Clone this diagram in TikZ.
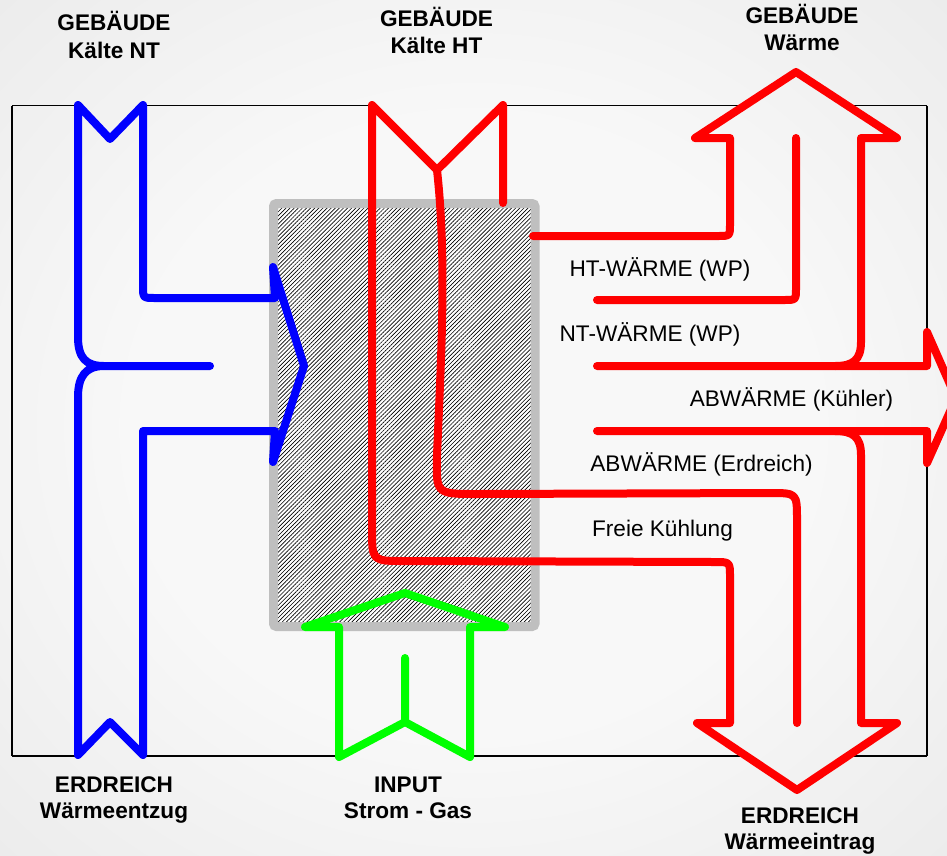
\documentclass[tikz,border=0pt]{standalone}
\usepackage{fontspec}
\setmainfont{Liberation Sans}
\usetikzlibrary{patterns.meta}
\definecolor{fblue}{HTML}{0000FF}
\definecolor{fred}{HTML}{FF0000}
\definecolor{fgreen}{HTML}{00FF00}
\definecolor{boxgray}{HTML}{BFBFBF}
\definecolor{bgc0}{HTML}{F8F8F8}
\definecolor{bgc1}{HTML}{E2E2E2}
\definecolor{bgc2}{HTML}{C6C6C6}
\pgfdeclareradialshading{bgshade}{\pgfpoint{0bp}{0bp}}{color(0bp)=(bgc0); color(18bp)=(bgc0); color(50bp)=(bgc1); color(71bp)=(bgc2)}
\tikzset{
  flow/.style={line width=8pt, line cap=round, line join=round},
  bl/.style={flow, draw=fblue},
  rd/.style={flow, draw=fred},
  gr/.style={flow, draw=fgreen},
  framel/.style={draw=black, line width=1.2pt},
  lbl/.style={font=\bfseries\fontsize{22.6}{26}\selectfont, anchor=base, inner sep=0pt},
  txt/.style={font=\fontsize{22.6}{26}\selectfont, anchor=base, inner sep=0pt},
}
\begin{document}
\begin{tikzpicture}[x=1pt,y=-1pt]
\useasboundingbox (0,0) rectangle (947,855);
\shade[shading=bgshade] (0,0) rectangle (947,855);

% frame (hidden inside arrow bodies)
\draw[framel] (12,105.5) -- (12,756);
\draw[framel] (12,105.5) -- (78,105.5) (143,105.5) -- (372,105.5) (503,105.5) -- (745,105.5) (847,105.5) -- (927,105.5);
\draw[framel] (12,756) -- (78,756) (143,756) -- (339,756) (470,756) -- (745,756) (849,756) -- (927,756);
\draw[framel] (927,105.5) -- (927,366) (927,431) -- (927,756);

% hatched box
\fill[white] (273.5,203.5) rectangle (535,626.5);
\fill[pattern={Lines[angle=45,distance=2.9pt,line width=0.65pt]}, pattern color=black] (273.5,203.5) rectangle (535,626.5);
\draw[boxgray, line width=9pt, rounded corners=3pt] (273.5,203.5) rectangle (535,626.5);

% blue
\draw[bl] (210,366) -- (104,366) .. controls (86,366) and (78,358) .. (78,337) -- (78,105) -- (110,139) -- (143,105)
  -- (143,286) .. controls (143,298) .. (155,298) -- (275,298) -- (273,267) -- (304,366) -- (273,462) -- (275,431)
  -- (143,431) -- (143,755) -- (110,722) -- (78,755) -- (78,397) .. controls (78,376) and (86,366) .. (104,366);

% red
\draw[rd] (597,431) -- (927,431) -- (927,463) -- (956,398) -- (927,332) -- (927,366) -- (597,366);
\draw[rd] (533,236) -- (718,236) .. controls (730,236) .. (730,224) -- (730,138) -- (695,138) -- (796,72) -- (897,138)
  -- (861,138) -- (861,342) .. controls (861,360) and (853,366) .. (835,366);
\draw[rd] (597,300) -- (784,300) .. controls (796,300) .. (796,288) -- (796,138);
\draw[rd] (835,431) .. controls (853,431) and (861,437) .. (861,455) -- (861,723) -- (897,723) -- (797,790) -- (697,723)
  -- (730,723) -- (730,577) .. controls (730,562) .. (715,562) -- (404,561) .. controls (372,561) .. (372,529)
  -- (372,105) -- (437,170) -- (503,105) -- (503,203);
\draw[rd] (437,170) .. controls (447,260) and (441,360) .. (437,455) .. controls (436,494) .. (477,494)
  -- (770,493) .. controls (797,493) .. (797,520) -- (797,723);

% green
\draw[gr] (405,658) -- (405,722) -- (339,757) -- (339,627) -- (305,627) -- (405,593) -- (505,627) -- (470,627)
  -- (470,757) -- (405,722);

% labels
\node[lbl] (gnt1) at (114,30.5) {GEBÄUDE};
\node[lbl] (gnt2) at (114,58) {Kälte NT};
\node[lbl] (ght1) at (436.5,26) {GEBÄUDE};
\node[lbl] (ght2) at (436.5,53) {Kälte HT};
\node[lbl] (gw1) at (802,23.5) {GEBÄUDE};
\node[lbl] (gw2) at (802,50.5) {Wärme};
\node[lbl] (el1) at (114,792) {ERDREICH};
\node[lbl] (el2) at (114,818) {Wärmeentzug};
\node[lbl] (in1) at (408,792) {INPUT};
\node[lbl] (in2) at (408,818) {Strom - Gas};
\node[lbl] (er1) at (800,823) {ERDREICH};
\node[lbl] (er2) at (800,849.5) {Wärmeeintrag};

\node[txt] (tht) at (660,276) {HT-WÄRME (WP)};
\node[txt] (tnt) at (650,341) {NT-WÄRME (WP)};
\node[txt] (tak) at (791.5,406) {ABWÄRME (Kühler)};
\node[txt] (tae) at (701.5,471) {ABWÄRME (Erdreich)};
\node[txt] (tfk) at (662.5,536) {Freie Kühlung};
\end{tikzpicture}
\end{document}
